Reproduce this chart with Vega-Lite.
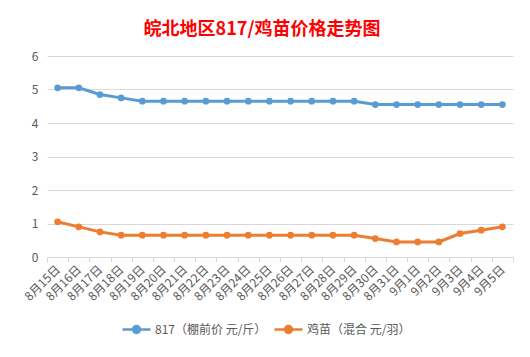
{
  "$schema": "https://vega.github.io/schema/vega-lite/v6.json",
  "autosize": "none",
  "width": 466,
  "height": 201,
  "padding": {"left": 47, "top": 56, "right": 17, "bottom": 100},
  "background": "white",
  "config": {
    "view": {"stroke": null},
    "font": "Noto Sans CJK SC"
  },
  "title": {
    "text": "皖北地区817/鸡苗价格走势图",
    "color": "#FF0000",
    "fontSize": 18,
    "fontWeight": "bold",
    "font": "Noto Sans CJK SC",
    "anchor": "middle",
    "dx": -18,
    "offset": 11
  },
  "data": {
    "values": [
      {"date": "8月15日", "series": "817（棚前价 元/斤）", "value": 5.05},
      {"date": "8月16日", "series": "817（棚前价 元/斤）", "value": 5.05},
      {"date": "8月17日", "series": "817（棚前价 元/斤）", "value": 4.85},
      {"date": "8月18日", "series": "817（棚前价 元/斤）", "value": 4.75},
      {"date": "8月19日", "series": "817（棚前价 元/斤）", "value": 4.65},
      {"date": "8月20日", "series": "817（棚前价 元/斤）", "value": 4.65},
      {"date": "8月21日", "series": "817（棚前价 元/斤）", "value": 4.65},
      {"date": "8月22日", "series": "817（棚前价 元/斤）", "value": 4.65},
      {"date": "8月23日", "series": "817（棚前价 元/斤）", "value": 4.65},
      {"date": "8月24日", "series": "817（棚前价 元/斤）", "value": 4.65},
      {"date": "8月25日", "series": "817（棚前价 元/斤）", "value": 4.65},
      {"date": "8月26日", "series": "817（棚前价 元/斤）", "value": 4.65},
      {"date": "8月27日", "series": "817（棚前价 元/斤）", "value": 4.65},
      {"date": "8月28日", "series": "817（棚前价 元/斤）", "value": 4.65},
      {"date": "8月29日", "series": "817（棚前价 元/斤）", "value": 4.65},
      {"date": "8月30日", "series": "817（棚前价 元/斤）", "value": 4.55},
      {"date": "8月31日", "series": "817（棚前价 元/斤）", "value": 4.55},
      {"date": "9月1日", "series": "817（棚前价 元/斤）", "value": 4.55},
      {"date": "9月2日", "series": "817（棚前价 元/斤）", "value": 4.55},
      {"date": "9月3日", "series": "817（棚前价 元/斤）", "value": 4.55},
      {"date": "9月4日", "series": "817（棚前价 元/斤）", "value": 4.55},
      {"date": "9月5日", "series": "817（棚前价 元/斤）", "value": 4.55},
      {"date": "8月15日", "series": "鸡苗（混合 元/羽）", "value": 1.05},
      {"date": "8月16日", "series": "鸡苗（混合 元/羽）", "value": 0.9},
      {"date": "8月17日", "series": "鸡苗（混合 元/羽）", "value": 0.75},
      {"date": "8月18日", "series": "鸡苗（混合 元/羽）", "value": 0.65},
      {"date": "8月19日", "series": "鸡苗（混合 元/羽）", "value": 0.65},
      {"date": "8月20日", "series": "鸡苗（混合 元/羽）", "value": 0.65},
      {"date": "8月21日", "series": "鸡苗（混合 元/羽）", "value": 0.65},
      {"date": "8月22日", "series": "鸡苗（混合 元/羽）", "value": 0.65},
      {"date": "8月23日", "series": "鸡苗（混合 元/羽）", "value": 0.65},
      {"date": "8月24日", "series": "鸡苗（混合 元/羽）", "value": 0.65},
      {"date": "8月25日", "series": "鸡苗（混合 元/羽）", "value": 0.65},
      {"date": "8月26日", "series": "鸡苗（混合 元/羽）", "value": 0.65},
      {"date": "8月27日", "series": "鸡苗（混合 元/羽）", "value": 0.65},
      {"date": "8月28日", "series": "鸡苗（混合 元/羽）", "value": 0.65},
      {"date": "8月29日", "series": "鸡苗（混合 元/羽）", "value": 0.65},
      {"date": "8月30日", "series": "鸡苗（混合 元/羽）", "value": 0.55},
      {"date": "8月31日", "series": "鸡苗（混合 元/羽）", "value": 0.45},
      {"date": "9月1日", "series": "鸡苗（混合 元/羽）", "value": 0.45},
      {"date": "9月2日", "series": "鸡苗（混合 元/羽）", "value": 0.45},
      {"date": "9月3日", "series": "鸡苗（混合 元/羽）", "value": 0.7},
      {"date": "9月4日", "series": "鸡苗（混合 元/羽）", "value": 0.8},
      {"date": "9月5日", "series": "鸡苗（混合 元/羽）", "value": 0.9}
    ]
  },
  "encoding": {
    "x": {
      "field": "date",
      "type": "ordinal",
      "sort": null,
      "scale": {"type": "band", "paddingInner": 0, "paddingOuter": 0},
      "axis": {
        "title": null,
        "labelAngle": -45,
        "labelAlign": "right",
        "labelBaseline": "middle",
        "labelFontSize": 12,
        "labelColor": "#595959",
        "labelPadding": 5,
        "tickBand": "extent",
        "tickColor": "#D9D9D9",
        "tickSize": 5,
        "domainColor": "#D9D9D9",
        "grid": false
      }
    },
    "y": {
      "field": "value",
      "type": "quantitative",
      "scale": {"domain": [0, 6], "nice": false},
      "axis": {
        "title": null,
        "values": [0, 1, 2, 3, 4, 5, 6],
        "domain": false,
        "ticks": false,
        "labelFontSize": 12,
        "labelColor": "#595959",
        "labelPadding": 9,
        "gridColor": "#D9D9D9",
        "gridWidth": 1
      }
    },
    "color": {
      "field": "series",
      "type": "nominal",
      "scale": {
        "domain": ["817（棚前价 元/斤）", "鸡苗（混合 元/羽）"],
        "range": ["#5B9BD5", "#ED7D31"]
      },
      "legend": {
        "title": null,
        "orient": "none",
        "direction": "horizontal",
        "legendX": 74,
        "legendY": 258,
        "symbolType": "M-1,0L1,0M-0.25,0A0.25,0.25,0,1,1,0.25,0A0.25,0.25,0,1,1,-0.25,0Z",
        "symbolSize": 784,
        "symbolStrokeWidth": 2.5,
        "labelFontSize": 12,
        "labelColor": "#595959",
        "labelOffset": 3,
        "columnPadding": 2,
        "encode": {
          "symbols": {"update": {"fill": {"scale": "color", "field": "value"}, "fillOpacity": {"value": 1}}}
        }
      }
    }
  },
  "layer": [
    {"mark": {"type": "line", "strokeWidth": 3}},
    {"mark": {"type": "point", "filled": true, "size": 45, "opacity": 1}}
  ]
}
